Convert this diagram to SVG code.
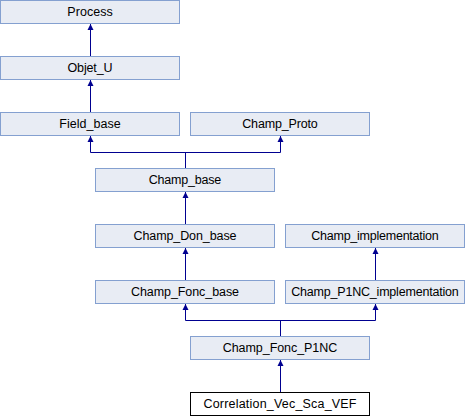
<svg xmlns="http://www.w3.org/2000/svg" width="465" height="416" viewBox="0 0 465 416">
<style>
.b rect{fill:#E8ECF4;stroke:#84A0D0;stroke-width:1}
.w rect{fill:#FFFFFF;stroke:#000000;stroke-width:1}
text{font-family:"Liberation Sans",Arial,sans-serif;font-size:12.5px;fill:#000;text-anchor:middle}
.c path{fill:none;stroke:#000090;stroke-width:1}
.c polygon{fill:#000090;stroke:none}
</style>
<rect width="465" height="416" fill="#FFFFFF"/>
<g class="c" id="connectors">
<path d="M90.5,56 V24"/><polygon points="90.5,24 93.5,30 87.5,30"/>
<path d="M90.5,112 V80"/><polygon points="90.5,80 93.5,86 87.5,86"/>
<path d="M185.5,168 V152.5 M90.5,152.5 H280.5 M90.5,152.5 V136 M280.5,152.5 V136"/>
<polygon points="90.5,136 93.5,142 87.5,142"/><polygon points="280.5,136 283.5,142 277.5,142"/>
<path d="M185.5,224 V192"/><polygon points="185.5,192 188.5,198 182.5,198"/>
<path d="M185.5,280 V248"/><polygon points="185.5,248 188.5,254 182.5,254"/>
<path d="M375.5,280 V248"/><polygon points="375.5,248 378.5,254 372.5,254"/>
<path d="M280.5,336 V320.5 M185.5,320.5 H375.5 M185.5,320.5 V304 M375.5,320.5 V304"/>
<polygon points="185.5,304 188.5,310 182.5,310"/><polygon points="375.5,304 378.5,310 372.5,310"/>
<path d="M280.5,392 V360"/><polygon points="280.5,360 283.5,366 277.5,366"/>
</g>
<g class="b" id="Process"><rect x="0.5" y="0.5" width="179" height="23"/><text x="90" y="16" textLength="45.5">Process</text></g>
<g class="b" id="Objet_U"><rect x="0.5" y="56.5" width="179" height="23"/><text x="90" y="72" textLength="45">Objet_U</text></g>
<g class="b" id="Field_base"><rect x="0.5" y="112.5" width="179" height="23"/><text x="90" y="128" textLength="61.5">Field_base</text></g>
<g class="b" id="Champ_Proto"><rect x="190.5" y="112.5" width="179" height="23"/><text x="280" y="128" textLength="75.5">Champ_Proto</text></g>
<g class="b" id="Champ_base"><rect x="95.5" y="168.5" width="179" height="23"/><text x="185" y="184" textLength="72.5">Champ_base</text></g>
<g class="b" id="Champ_Don_base"><rect x="95.5" y="224.5" width="179" height="23"/><text x="185" y="240" textLength="103">Champ_Don_base</text></g>
<g class="b" id="Champ_implementation"><rect x="285.5" y="224.5" width="179" height="23"/><text x="375" y="240" textLength="127.5">Champ_implementation</text></g>
<g class="b" id="Champ_Fonc_base"><rect x="95.5" y="280.5" width="179" height="23"/><text x="185" y="296" textLength="108">Champ_Fonc_base</text></g>
<g class="b" id="Champ_P1NC_implementation"><rect x="285.5" y="280.5" width="179" height="23"/><text x="375" y="296" textLength="167.5">Champ_P1NC_implementation</text></g>
<g class="b" id="Champ_Fonc_P1NC"><rect x="190.5" y="336.5" width="179" height="23"/><text x="280" y="352" textLength="114.5">Champ_Fonc_P1NC</text></g>
<g class="w" id="Correlation_Vec_Sca_VEF"><rect x="190.5" y="392.5" width="179" height="23"/><text x="280" y="408" textLength="153">Correlation_Vec_Sca_VEF</text></g>
</svg>
